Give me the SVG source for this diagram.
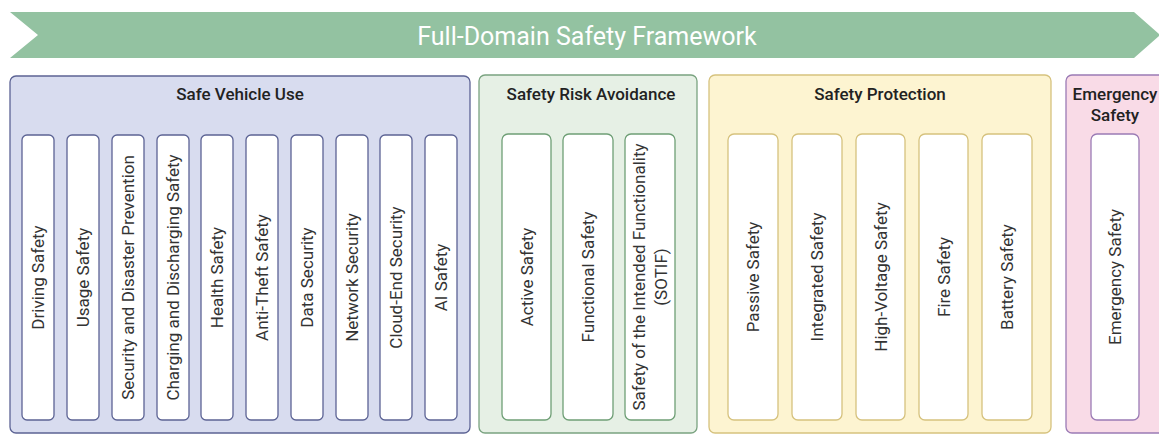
<svg xmlns="http://www.w3.org/2000/svg" width="1159" height="434" viewBox="0 0 1159 434">
  <style>
    .banner-text { font-family: Roboto, "Liberation Sans", sans-serif; font-size: 25px; fill: #ffffff; text-anchor: middle; dominant-baseline: central; }
    .title { font-family: Roboto, "Liberation Sans", sans-serif; font-size: 17px; font-weight: 500; fill: #222222; text-anchor: middle; dominant-baseline: central; }
    .label { font-family: Roboto, "Liberation Sans", sans-serif; font-size: 17px; fill: #333333; text-anchor: middle; dominant-baseline: central; }
    .grp { stroke-width: 1.3; }
    .item { fill: #ffffff; stroke-width: 1.3; }
    .blue { fill: #d8dcef; stroke: #5c6394; }
    .green { fill: #e6f0e5; stroke: #7aa380; }
    .yellow { fill: #fdf4d1; stroke: #d6c27e; }
    .pink { fill: #f9dbe7; stroke: #9b7bb5; }
    .i-blue { stroke: #5c6394; }
    .i-green { stroke: #6f9f76; }
    .i-yellow { stroke: #d6c27e; }
    .i-pink { stroke: #9b7bb5; }
  </style>

  <!-- Banner -->
  <g id="banner">
    <polygon points="10,12 1134,12 1160,35 1134,58 10,58 38,35" fill="#93c2a1"/>
    <text class="banner-text" x="587" y="36">Full-Domain Safety Framework</text>
  </g>

  <!-- Safe Vehicle Use -->
  <g id="safe-vehicle-use">
    <rect class="grp blue" x="10" y="76" width="460" height="357" rx="6"/>
    <text class="title" x="240" y="94">Safe Vehicle Use</text>
    <g id="driving-safety"><rect class="item i-blue" x="22" y="135" width="32" height="285" rx="5"/><text class="label" transform="translate(38,277.5) rotate(-90)">Driving Safety</text></g>
    <g id="usage-safety"><rect class="item i-blue" x="67" y="135" width="32" height="285" rx="5"/><text class="label" transform="translate(83,277.5) rotate(-90)">Usage Safety</text></g>
    <g id="security-disaster"><rect class="item i-blue" x="112" y="135" width="32" height="285" rx="5"/><text class="label" transform="translate(128,277.5) rotate(-90)">Security and Disaster Prevention</text></g>
    <g id="charging-safety"><rect class="item i-blue" x="157" y="135" width="32" height="285" rx="5"/><text class="label" transform="translate(173,277.5) rotate(-90)">Charging and Discharging Safety</text></g>
    <g id="health-safety"><rect class="item i-blue" x="201" y="135" width="32" height="285" rx="5"/><text class="label" transform="translate(217,277.5) rotate(-90)">Health Safety</text></g>
    <g id="anti-theft-safety"><rect class="item i-blue" x="246" y="135" width="32" height="285" rx="5"/><text class="label" transform="translate(262,277.5) rotate(-90)">Anti-Theft Safety</text></g>
    <g id="data-security"><rect class="item i-blue" x="291" y="135" width="32" height="285" rx="5"/><text class="label" transform="translate(307,277.5) rotate(-90)">Data Security</text></g>
    <g id="network-security"><rect class="item i-blue" x="336" y="135" width="32" height="285" rx="5"/><text class="label" transform="translate(352,277.5) rotate(-90)">Network Security</text></g>
    <g id="cloud-end-security"><rect class="item i-blue" x="380" y="135" width="32" height="285" rx="5"/><text class="label" transform="translate(396,277.5) rotate(-90)">Cloud-End Security</text></g>
    <g id="ai-safety"><rect class="item i-blue" x="425" y="135" width="32" height="285" rx="5"/><text class="label" transform="translate(441,277.5) rotate(-90)">AI Safety</text></g>
  </g>

  <!-- Safety Risk Avoidance -->
  <g id="safety-risk-avoidance">
    <rect class="grp green" x="479" y="75" width="218" height="358" rx="6"/>
    <text class="title" x="591" y="94">Safety Risk Avoidance</text>
    <g id="active-safety"><rect class="item i-green" x="502" y="134" width="49" height="286" rx="6"/><text class="label" transform="translate(526.5,277) rotate(-90)">Active Safety</text></g>
    <g id="functional-safety"><rect class="item i-green" x="563" y="134" width="50" height="286" rx="6"/><text class="label" transform="translate(588,277) rotate(-90)">Functional Safety</text></g>
    <g id="sotif">
      <rect class="item i-green" x="625" y="134" width="50" height="286" rx="6"/>
      <text class="label" transform="translate(650,277) rotate(-90)"><tspan x="0" y="-11">Safety of the Intended Functionality</tspan><tspan x="0" y="11">(SOTIF)</tspan></text>
    </g>
  </g>

  <!-- Safety Protection -->
  <g id="safety-protection">
    <rect class="grp yellow" x="709" y="75" width="342" height="358" rx="6"/>
    <text class="title" x="880" y="94">Safety Protection</text>
    <g id="passive-safety"><rect class="item i-yellow" x="728" y="134" width="50" height="286" rx="6"/><text class="label" transform="translate(753,277) rotate(-90)">Passive Safety</text></g>
    <g id="integrated-safety"><rect class="item i-yellow" x="792" y="134" width="50" height="286" rx="6"/><text class="label" transform="translate(817,277) rotate(-90)">Integrated Safety</text></g>
    <g id="high-voltage-safety"><rect class="item i-yellow" x="856" y="134" width="49" height="286" rx="6"/><text class="label" transform="translate(880.5,277) rotate(-90)">High-Voltage Safety</text></g>
    <g id="fire-safety"><rect class="item i-yellow" x="919" y="134" width="49" height="286" rx="6"/><text class="label" transform="translate(943.5,277) rotate(-90)">Fire Safety</text></g>
    <g id="battery-safety"><rect class="item i-yellow" x="982" y="134" width="50" height="286" rx="6"/><text class="label" transform="translate(1007,277) rotate(-90)">Battery Safety</text></g>
  </g>

  <!-- Emergency Safety -->
  <g id="emergency-safety-group">
    <rect class="grp pink" x="1066" y="75" width="110" height="358" rx="6"/>
    <text class="title" x="1115" y="94">Emergency</text>
    <text class="title" x="1115" y="115">Safety</text>
    <g id="emergency-safety"><rect class="item i-pink" x="1091" y="134" width="48" height="286" rx="6"/><text class="label" transform="translate(1115,277) rotate(-90)">Emergency Safety</text></g>
  </g>
</svg>
